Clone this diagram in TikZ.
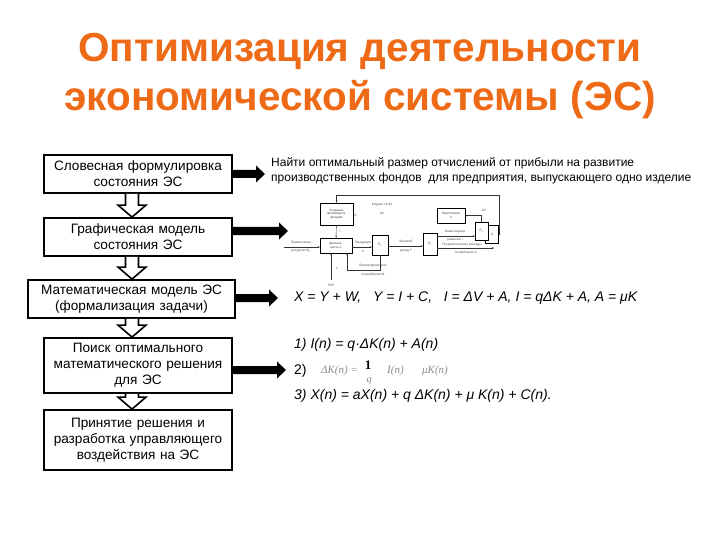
\documentclass[tikz,border=0pt]{standalone}
\usepackage{fontspec}
\setmainfont{Liberation Sans}
\newfontfamily\serifm{Liberation Serif}
\usetikzlibrary{calc,arrows.meta}
\definecolor{titleor}{RGB}{238,106,22}
\newcommand\hollowarrow[2]{\draw[line width=1.6pt, fill=white, line join=miter]
  ($(#1)+(-6.5,0)$) -- ($(#2)+(-6.5,-12)$) -- ($(#2)+(-14,-12)$) -- (#2) --
  ($(#2)+(14,-12)$) -- ($(#2)+(6.5,-12)$) -- ($(#1)+(6.5,0)$);}
\newcommand\blockarrow[2]{\fill ($(#1)+(0,-4)$) -- ($(#2)+(-9,-4)$) -- ($(#2)+(-9,-8.5)$) -- (#2) --
  ($(#2)+(-9,8.5)$) -- ($(#2)+(-9,4)$) -- ($(#1)+(0,4)$) -- cycle;}
\begin{document}
\begin{tikzpicture}[x=1pt,y=-1pt,
  box/.style={draw, line width=1.8pt, align=center, inner sep=1pt,
    font=\fontsize{13.6}{16}\selectfont, text width=#1},
  box/.default=186,
  rtext/.style={anchor=west, inner sep=0, align=left},
  fml/.style={rtext, font=\itshape\fontsize{14}{16}\selectfont},
  sm/.style={draw, line width=0.45pt, inner sep=0.4pt, align=center,
    font=\fontsize{3.2}{3.7}\selectfont, text=black!75},
  smt/.style={inner sep=0.4pt, align=center, font=\fontsize{3.2}{3.7}\selectfont, text=black!70},
  sml/.style={line width=0.45pt, draw=black!80},
  sma/.style={sml, -{Stealth[length=2pt,width=1.6pt]}}]
\useasboundingbox (0,0) rectangle (720,540);
\fill[white] (0,0) rectangle (720,540);

% title
\node[font=\bfseries\fontsize{40.5}{49.5}\selectfont, text=titleor, align=center] (title) at (360,76)
  {Оптимизация деятельности\\экономической системы (ЭС)};

% left boxes
\node[box, minimum height=38] (b1) at (138,174) {Словесная формулировка\\состояния ЭС};
\node[box, minimum height=38] (b2) at (138,237) {Графическая модель\\состояния ЭС};
\node[box=205, minimum height=38] (b3) at (131.5,299) {Математическая модель ЭС\\(формализация задачи)};
\node[box, minimum height=55] (b4) at (138,365.5) {Поиск оптимального\\математического решения\\для ЭС};
\node[box, minimum height=60] (b5) at (138,440) {Принятие решения и\\разработка управляющего\\воздействия на ЭС};

% hollow arrows
\coordinate (ax) at (132,0);
\coordinate (h1a) at (b1.south -| ax); \coordinate (h1b) at (b2.north -| ax);
\coordinate (h2a) at (b2.south -| ax); \coordinate (h2b) at (b3.north -| ax);
\coordinate (h3a) at (b3.south -| ax); \coordinate (h3b) at (b4.north -| ax);
\coordinate (h4a) at (b4.south -| ax); \coordinate (h4b) at (b5.north -| ax);
\hollowarrow{h1a}{h1b}
\hollowarrow{h2a}{h2b}
\hollowarrow{h3a}{h3b}
\hollowarrow{h4a}{h4b}

% black arrows
\coordinate (t1) at (265,174); \coordinate (s1) at (b1.east |- t1);
\coordinate (t2) at (288,231); \coordinate (s2) at (b2.east |- t2);
\coordinate (t3) at (278,298); \coordinate (s3) at (b3.east |- t3);
\coordinate (t4) at (286,370); \coordinate (s4) at (b4.east |- t4);
\blockarrow{s1}{t1}
\blockarrow{s2}{t2}
\blockarrow{s3}{t3}
\blockarrow{s4}{t4}

% right texts
\node[rtext, font=\fontsize{12}{15}\selectfont] (task) at (271,170.5)
  {Найти оптимальный размер отчислений от прибыли на развитие\\
   производственных фондов\ \ для предприятия, выпускающего одно изделие};

\node[fml] (mm) at (294,298)
  {X = Y + W,\ \ \ Y = I + C,\ \ \ I = ΔV + A, I = qΔK + A, A = μK};

\node[fml] (f1) at (294,345) {1) I(n) = q·ΔK(n) + A(n)};
\node[rtext, font=\fontsize{14}{16}\selectfont] (f2) at (294,371) {2)};
\node[rtext, font=\serifm\itshape\fontsize{11}{12}\selectfont, text=black!45] (f2a) at (321,371) {ΔK(n) =};
\node[font=\serifm\bfseries\fontsize{13}{14}\selectfont] (f2b) at (368,365) {1};
\node[font=\serifm\itshape\fontsize{10}{11}\selectfont, text=black!45] (f2c) at (369,381) {q};
\node[rtext, font=\serifm\itshape\fontsize{11}{12}\selectfont, text=black!45] (f2d) at (387,371) {I(n)};
\node[rtext, font=\serifm\itshape\fontsize{11}{12}\selectfont, text=black!45] (f2e) at (422,371) {μK(n)};
\node[fml] (f3) at (294,396) {3) X(n) = aX(n) + q ΔK(n) + μ K(n) + C(n).};

% small block diagram
\node[sm, minimum width=33, minimum height=22] (sa) at (336.5,214) {Создание\\производств.\\фондов};
\node[sm, minimum width=32, minimum height=15] (sb) at (336,245.5) {Деятель-\\ность Z};
\node[sm, minimum width=16, minimum height=20] (sc) at (380,245) {P\textsubscript{1}};
\node[sm, minimum width=14, minimum height=22] (sd) at (430,244) {P\textsubscript{2}};
\node[sm, minimum width=28, minimum height=15] (sf) at (451,215.5) {Накопление\\V};
\node[sm, minimum width=13, minimum height=18] (se2) at (492,234) {A};
\node[sm, fill=white, minimum width=13, minimum height=18] (se) at (481.5,231) {P\textsubscript{3}};

\coordinate (tr) at (499,195);
\draw[sma] (se2.east) -| (tr) -| (sa.north);
\draw[sma] (sa) -- (sb);
\node[smt, anchor=west] (li) at (339,231) {I};
\node[smt, anchor=west] (lk) at (354,215) {K};
\node[smt] (bud) at (382,205) {Бюджет (A,Ф)};
\node[smt] (bud2) at (382,213) {ΔV};

\coordinate (in) at (284,247);
\draw[sma] (in) -- (sb.west |- in);
\node[smt] (lin1) at (301,242.5) {Привлечение};
\node[smt] (lin2) at (301,251) {ресурсов W\textsubscript{0}};

\coordinate (bt) at (331,280);
\draw[sma] (bt) -- (sb.south -| bt);
\node[smt] (ll) at (337,268) {L};
\node[smt] (lt) at (331,285) {ТФР};

\draw[sma] (sb.east |- in) -- (sc.west |- in);
\node[smt] (lp1) at (363,242.5) {Продукция};
\node[smt] (lp2) at (363,251) {X};

\coordinate (fb) at (347,270);
\draw[sma] (sc.south) |- (fb) -- (fb |- sb.south);
\node[smt] (lw1) at (373,266) {Производственное};
\node[smt] (lw2) at (373,275) {потребление W};

\coordinate (vy) at (0,246);
\draw[sma] (sc.east |- vy) -- (sd.west |- vy);
\node[smt] (ly1) at (406,241.5) {Валовой};
\node[smt] (ly2) at (406,251) {доход Y};

\coordinate (vi) at (0,236);
\draw[sma] (sd.east |- vi) -- (se.west |- vi);
\node[smt] (lv1) at (455,232) {Инвестиции в};
\node[smt] (lv2) at (455,239.5) {развитие I};

\coordinate (lo) at (494,248);
\draw[sma] (sd.east |- lo) -- (lo);
\node[smt] (lc1) at (462,245) {Потребительские расходы};
\node[smt] (lc2) at (466,253) {потребление C};

\draw[sma] (se.north) |- (sf.east);
\node[smt] (ldv) at (484,210) {ΔV};
\end{tikzpicture}
\end{document}
